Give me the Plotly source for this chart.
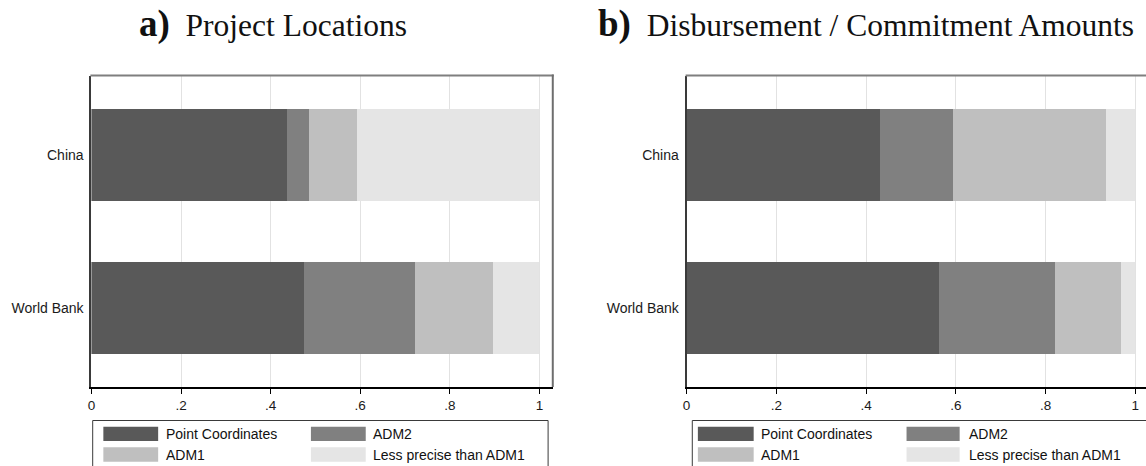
import plotly.graph_objects as go

# ---------------- data ----------------
categories = ["China", "World Bank"]
series_names = ["Point Coordinates", "ADM2", "ADM1", "Less precise than ADM1"]
series_colors = ["#595959", "#808080", "#bfbfbf", "#e5e5e5"]

loc_point = [0.436, 0.474]
loc_adm2 = [0.050, 0.248]
loc_adm1 = [0.107, 0.174]
loc_less = [0.407, 0.104]

amt_point = [0.431, 0.562]
amt_adm2 = [0.162, 0.259]
amt_adm1 = [0.342, 0.148]
amt_less = [0.065, 0.031]

tick_vals = [0, 0.2, 0.4, 0.6, 0.8, 1]
tick_text = ["0", ".2", ".4", ".6", ".8", "1"]

panel_titles = [("a)", "Project Locations"), ("b)", "Disbursement / Commitment Amounts")]

# ---------------- layout constants (pixels) ----------------
W, H = 1146, 466
def px(x):
    return x / W
def py(y):
    return (H - y) / H

plot_top, plot_bot = 75.5, 387.0
panels = [
    dict(x0=87.7, scale=449.6, right=550.7, mirror_right=True,
         legend_left=89, legend_right=546, sw1=(99.7, 154.7), tx1=161, sw2=(308, 363), tx2=368,
         title_x=133),
    dict(x0=685.0, scale=450.3, right=1146.0, mirror_right=False,
         legend_left=690.7, legend_right=1149, sw1=(696.3, 752.3), tx1=758, sw2=(905.7, 959), tx2=966,
         title_x=594),
]

fig = go.Figure()

data_sets = [
    [loc_point, loc_adm2, loc_adm1, loc_less],
    [amt_point, amt_adm2, amt_adm1, amt_less],
]

shapes = []
annotations = []

for i, (vals, p) in enumerate(zip(data_sets, panels)):
    xa = "x" if i == 0 else "x2"
    ya = "y" if i == 0 else "y2"
    for name, color, v in zip(series_names, series_colors, vals):
        fig.add_trace(go.Bar(
            x=v, y=categories, orientation="h", name=name,
            marker=dict(color=color, line=dict(width=0)),
            width=0.6, xaxis=xa, yaxis=ya, showlegend=False,
            hoverinfo="x+y+name",
        ))
    xmax = (p["right"] - p["x0"]) / p["scale"]
    dom = [px(p["x0"]), min(1.0, px(p["right"]))]
    xkey = "xaxis" if i == 0 else "xaxis2"
    ykey = "yaxis" if i == 0 else "yaxis2"
    fig.update_layout(**{
        xkey: dict(domain=dom, range=[0, xmax], tickvals=tick_vals, ticktext=tick_text,
                   showgrid=True, gridcolor="#e2e2e2", gridwidth=1, zeroline=False,
                   showline=True, linecolor="#000000", linewidth=2, mirror=False,
                   ticks="outside", ticklen=5, tickcolor="#000000", tickwidth=1,
                   tickfont=dict(family="Liberation Sans, Arial", size=13.5, color="#1a1a1a"),
                   anchor=ya, fixedrange=True),
        ykey: dict(domain=[py(plot_bot), py(plot_top)], range=[1.516, -0.516],
                   type="category", categoryorder="array", categoryarray=categories,
                   showgrid=False, zeroline=False, showline=True, linecolor="#3a3a3a",
                   linewidth=2, ticks="", ticklabelstandoff=3,
                   tickfont=dict(family="Liberation Sans, Arial", size=14, color="#1a1a1a"),
                   anchor=xa, fixedrange=True),
    })
    # top frame line (gray)
    shapes.append(dict(type="line", xref="paper", yref="paper",
                       x0=px(p["x0"] - 1), x1=px(p["right"] + 1), y0=py(plot_top), y1=py(plot_top),
                       line=dict(color="#7f7f7f", width=2)))
    if p["mirror_right"]:
        shapes.append(dict(type="line", xref="paper", yref="paper",
                           x0=px(p["right"]), x1=px(p["right"]), y0=py(plot_top - 1), y1=py(plot_bot),
                           line=dict(color="#6e6e6e", width=2)))
    # legend box
    shapes.append(dict(type="rect", xref="paper", yref="paper",
                       x0=px(p["legend_left"]), x1=px(p["legend_right"]),
                       y0=py(470), y1=py(420.5),
                       line=dict(color="#3a3a3a", width=1), fillcolor="#ffffff"))
    rows = [(426.7, 441.0, 434.0), (447.3, 461.7, 454.5)]
    for k, (name, color) in enumerate(zip(series_names, series_colors)):
        r, c = divmod(k, 2)
        sw = p["sw1"] if c == 0 else p["sw2"]
        tx = p["tx1"] if c == 0 else p["tx2"]
        y0, y1, yc = rows[r]
        shapes.append(dict(type="rect", xref="paper", yref="paper",
                           x0=px(sw[0]), x1=px(sw[1]), y0=py(y1), y1=py(y0),
                           line=dict(width=0), fillcolor=color))
        annotations.append(dict(xref="paper", yref="paper", x=px(tx), y=py(yc),
                                xanchor="left", yanchor="middle", showarrow=False,
                                text=name,
                                font=dict(family="Liberation Sans, Arial", size=14, color="#111111")))
    # panel title
    lab, ttl = panel_titles[i]
    annotations.append(dict(xref="paper", yref="paper", x=px(p["title_x"]), y=py(24),
                            xanchor="left", yanchor="middle", showarrow=False,
                            text=f"<b><span style='font-size:37px'>{lab}</span></b>\u2002{ttl}",
                            font=dict(family="Liberation Serif, Times New Roman, serif", size=31.5,
                                      color="#111111")))

fig.update_layout(
    width=W, height=H, margin=dict(l=0, r=0, t=0, b=0),
    paper_bgcolor="#ffffff", plot_bgcolor="#ffffff",
    barmode="stack", bargap=0.4, showlegend=False,
    shapes=shapes, annotations=annotations,
)

fig.write_html("out.html", config={"displayModeBar": False})
